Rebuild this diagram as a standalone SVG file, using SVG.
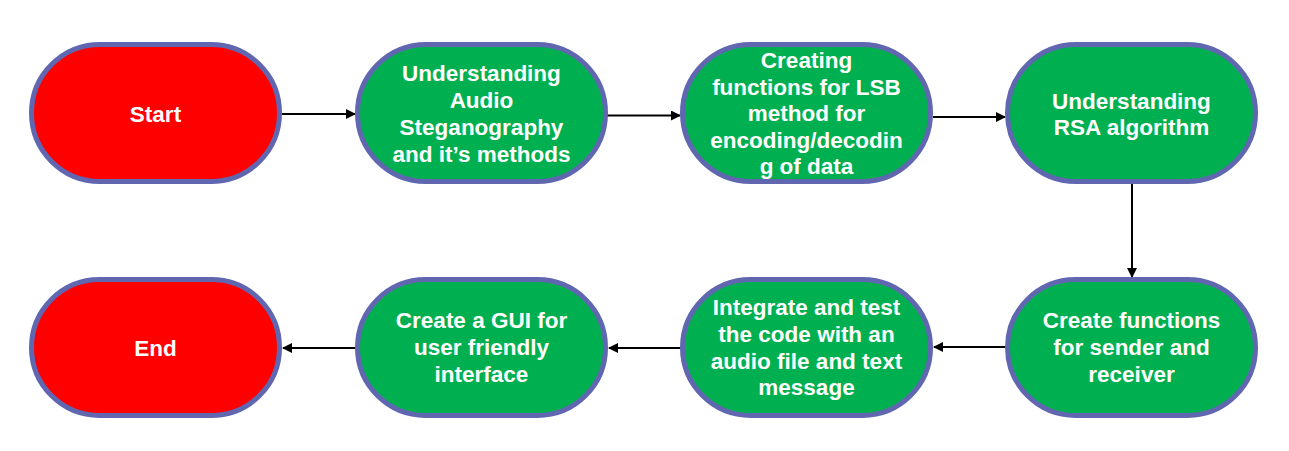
<svg xmlns="http://www.w3.org/2000/svg" width="1289" height="451" viewBox="0 0 1289 451">
<style>
.n{stroke:#6067B0;stroke-width:5}
.red{fill:#FF0000}
.grn{fill:#00B050}
text{font-family:"Liberation Sans",Arial,sans-serif;font-weight:bold;font-size:22.5px;fill:#FFFFFF;text-anchor:middle}
.c{stroke:#000;stroke-width:2;fill:none;marker-end:url(#ah)}
</style>
<defs>
<marker id="ah" viewBox="0 0 10 10" refX="9" refY="5" markerWidth="5" markerHeight="5" orient="auto" markerUnits="strokeWidth">
<path d="M0,0 L10,5 L0,10 z" fill="#000"/>
</marker>
</defs>
<rect width="1289" height="451" fill="#FFFFFF"/>
<g id="connectors">
<line class="c" x1="282" y1="114" x2="355" y2="114"/>
<line class="c" x1="607" y1="115.5" x2="680" y2="115.5"/>
<line class="c" x1="933" y1="117" x2="1005" y2="117"/>
<line class="c" x1="1132" y1="182" x2="1132" y2="277"/>
<line class="c" x1="1006" y1="347" x2="934" y2="347"/>
<line class="c" x1="681" y1="348" x2="609" y2="348"/>
<line class="c" x1="356" y1="348" x2="283" y2="348"/>
</g>
<g id="start">
<rect class="n red" x="31.5" y="44.5" width="248" height="137" rx="68.5"/>
<text x="155.5" y="122">Start</text>
</g>
<g id="n2">
<rect class="n grn" x="357.5" y="44.5" width="248" height="137" rx="68.5"/>
<text x="481.5" y="81">Understanding</text>
<text x="481.5" y="108">Audio</text>
<text x="481.5" y="135">Steganography</text>
<text x="481.5" y="162">and it’s methods</text>
</g>
<g id="n3">
<rect class="n grn" x="682.5" y="44.5" width="248" height="137" rx="68.5"/>
<text x="806.5" y="68">Creating</text>
<text x="806.5" y="94.5">functions for LSB</text>
<text x="806.5" y="121">method for</text>
<text x="806.5" y="147.5">encoding/decodin</text>
<text x="806.5" y="174">g of data</text>
</g>
<g id="n4">
<rect class="n grn" x="1007.5" y="44.5" width="248" height="137" rx="68.5"/>
<text x="1131.5" y="109">Understanding</text>
<text x="1131.5" y="135">RSA algorithm</text>
</g>
<g id="n5">
<rect class="n grn" x="1007.5" y="279.5" width="248" height="136" rx="68"/>
<text x="1131.5" y="328">Create functions</text>
<text x="1131.5" y="355">for sender and</text>
<text x="1131.5" y="382">receiver</text>
</g>
<g id="n6">
<rect class="n grn" x="682.5" y="279.5" width="248" height="136" rx="68"/>
<text x="806.5" y="315">Integrate and test</text>
<text x="806.5" y="341.5">the code with an</text>
<text x="806.5" y="368.5">audio file and text</text>
<text x="806.5" y="395">message</text>
</g>
<g id="n7">
<rect class="n grn" x="357.5" y="279.5" width="248" height="136" rx="68"/>
<text x="481.5" y="328">Create a GUI for</text>
<text x="481.5" y="355">user friendly</text>
<text x="481.5" y="382">interface</text>
</g>
<g id="end">
<rect class="n red" x="31.5" y="279.5" width="248" height="136" rx="68"/>
<text x="155.5" y="356">End</text>
</g>
</svg>
